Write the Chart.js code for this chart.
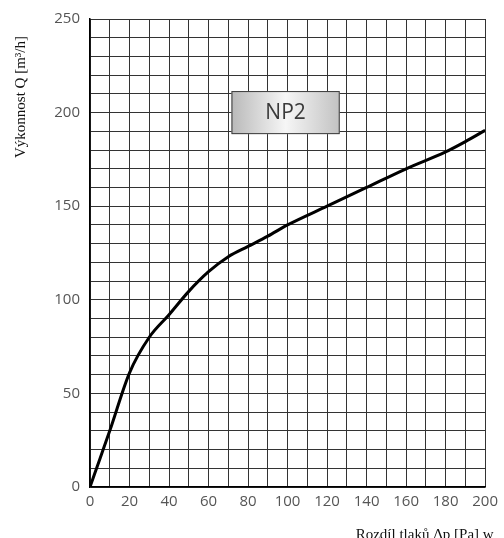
<!DOCTYPE html>
<html>
<head>
<meta charset="utf-8">
<script src="https://cdn.jsdelivr.net/npm/chart.js"></script>
<style>
    html, body { margin: 0; padding: 0; background: #fff; overflow: hidden; }
    #obal { position: relative; width: 504px; height: 538px; }
</style>
</head>
<body>
<div id="obal"><canvas id="graf"></canvas></div>
<script>
// hodnoty
var tlak = [0, 5, 10, 20, 30, 40, 50, 60, 70, 80, 90, 100, 120, 140, 160, 180, 190, 200];
var vykon = [0, 15, 30, 61, 80, 92, 104.5, 115, 123, 128.5, 134, 140, 150, 160, 170, 179, 184.5, 190.5];
var xTicky = [0, 20, 40, 60, 80, 100, 120, 140, 160, 180, 200];
var yTicky = [0, 50, 100, 150, 200, 250];

var nazevRady = "NP2";
var popisX = "Rozdíl tlaků Δp [Pa] w";
var popisY = "Výkonnost Q [m³/h]";

// stitek NP2 v souradnicich grafu
var stitekX = [71.6, 126.4];
var stitekY = [188.5, 211.5];

var stitekPlugin = {
    id: 'stitek',
    beforeDatasetsDraw: function(chart) {
        var ctx = chart.ctx;
        var sx = chart.scales.x, sy = chart.scales.y;
        var x0 = sx.getPixelForValue(stitekX[0]);
        var x1 = sx.getPixelForValue(stitekX[1]);
        var y0 = sy.getPixelForValue(stitekY[1]);
        var y1 = sy.getPixelForValue(stitekY[0]);
        ctx.save();
        var grad = ctx.createLinearGradient(x0, 0, x1, 0);
        grad.addColorStop(0, "#b9b9b9");
        grad.addColorStop(0.5, "#f6f6f6");
        grad.addColorStop(1, "#c2c2c2");
        ctx.fillStyle = grad;
        ctx.fillRect(x0, y0, x1 - x0, y1 - y0);
        ctx.strokeStyle = "#3a3a3a";
        ctx.lineWidth = 1;
        ctx.strokeRect(x0 + 0.5, y0 + 0.5, x1 - x0 - 1, y1 - y0 - 1);
        ctx.fillStyle = "#3a3a3a";
        ctx.font = '21px "Open Sans", "Noto Sans", sans-serif';
        ctx.textAlign = "center";
        ctx.textBaseline = "middle";
        ctx.fillText(nazevRady, (x0 + x1) / 2, (y0 + y1) / 2);
        ctx.restore();
    }
};

var popiskyPlugin = {
    id: 'popisky',
    afterDraw: function(chart) {
        var ctx = chart.ctx;
        var a = chart.chartArea;
        ctx.save();
        ctx.fillStyle = "#111";
        ctx.font = '15px "Liberation Serif", "DejaVu Serif", serif';
        // osa x - vpravo dole, spodek useknuty
        ctx.textAlign = "right";
        ctx.textBaseline = "alphabetic";
        ctx.fillText(popisX, a.right + 8.5, chart.height + 0.5);
        // osa y - svisle vlevo nahore
        ctx.translate(25, a.top + 78);
        ctx.rotate(-Math.PI / 2);
        ctx.textAlign = "center";
        ctx.fillText(popisY, 0, 0);
        ctx.restore();
    }
};

function generarGrafico(canvas)
{
    var data = {
        datasets: [{
            data: tlak.map(function(t, i) { return { x: t, y: vykon[i] }; }),
            borderColor: "#000",
            borderWidth: 3,
            pointRadius: 0,
            fill: false,
            cubicInterpolationMode: 'monotone'
        }]
    };
    var options = {
        responsive: true,
        maintainAspectRatio: false,
        animation: false,
        layout: { padding: { left: 0, top: 17, right: 15.5, bottom: 0 } },
        plugins: { legend: { display: false }, tooltip: { enabled: false } },
        scales: {
            x: {
                type: 'linear',
                min: 0,
                max: 200,
                afterFit: function(scale) { scale.height = 51; },
                ticks: {
                    stepSize: 10,
                    autoSkip: false,
                    maxRotation: 0,
                    padding: 6,
                    color: "#555",
                    font: { family: '"Open Sans", "Noto Sans", sans-serif', size: 15 },
                    callback: function(v) { return xTicky.indexOf(v) >= 0 ? v : ''; }
                },
                grid: { color: "#333", lineWidth: 1, drawTicks: false },
                border: { color: "#000", width: 1.5 }
            },
            y: {
                type: 'linear',
                min: 0,
                max: 250,
                afterFit: function(scale) { scale.width = 90; },
                ticks: {
                    stepSize: 10,
                    autoSkip: false,
                    padding: 10,
                    color: "#555",
                    font: { family: '"Open Sans", "Noto Sans", sans-serif', size: 15 },
                    callback: function(v) { return yTicky.indexOf(v) >= 0 ? v : ''; }
                },
                grid: { color: "#333", lineWidth: 1, drawTicks: false },
                border: { color: "#000", width: 1.5 }
            }
        }
    };
    new Chart(canvas, {
        type: 'line',
        data: data,
        options: options,
        plugins: [stitekPlugin, popiskyPlugin]
    });
}

generarGrafico(document.getElementById("graf"));
</script>
</body>
</html>
